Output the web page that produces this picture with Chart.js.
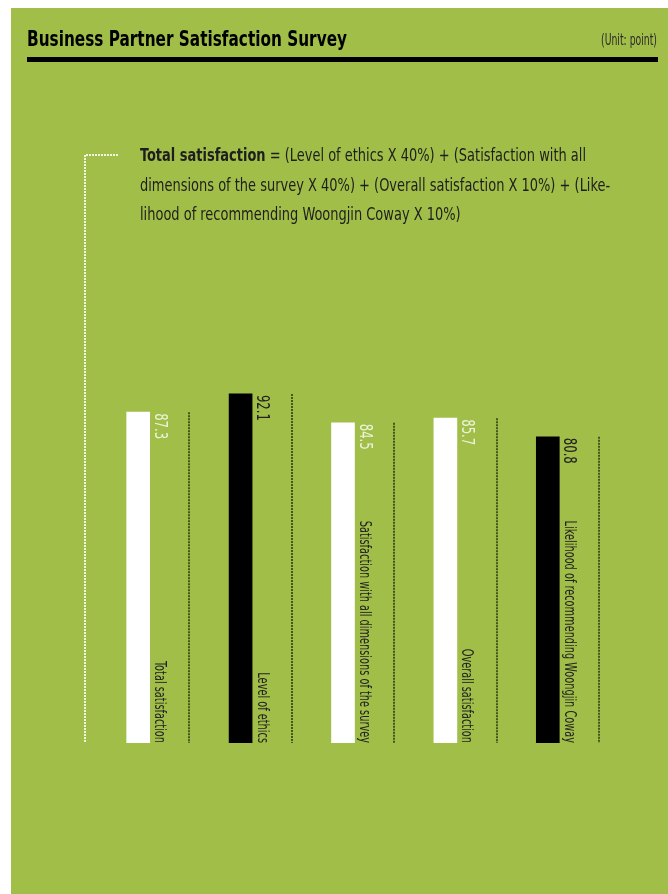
<!DOCTYPE html>
<html>
<head>
<meta charset="utf-8">
<script src="https://cdn.jsdelivr.net/npm/chart.js@4.4.0/dist/chart.umd.min.js"></script>
<style>
  html, body { margin: 0; padding: 0; background: #ffffff; }
  #chart { display: block; }
</style>
</head>
<body>
<canvas id="chart" width="668" height="894"></canvas>
<script>
// Data
const categories = [
  'Total satisfaction',
  'Level of ethics',
  'Satisfaction with all dimensions of the survey',
  'Overall satisfaction',
  'Likelihood of recommending Woongjin Coway'
];
const scores = [87.3, 92.1, 84.5, 85.7, 80.8];
const valueLabels = ['87.3', '92.1', '84.5', '85.7', '80.8'];

const titleText = 'Business Partner Satisfaction Survey';
const unitText = '(Unit: point)';
const formulaBold = 'Total satisfaction';
const formulaLines = [
  ' = (Level of ethics X 40%) + (Satisfaction with all',
  'dimensions of the survey X 40%) + (Overall satisfaction X 10%) + (Like-',
  'lihood of recommending Woongjin Coway X 10%)'
];

// Styles
const GREEN = 'rgb(161, 190, 72)';
const NARROW = "'Liberation Sans Narrow', 'DejaVu Sans Condensed', sans-serif";
const barColors = ['#ffffff', '#000000', '#ffffff', '#ffffff', '#000000'];
const valueColors = ['rgba(255,255,255,0.8)', '#222222', 'rgba(255,255,255,0.8)', 'rgba(255,255,255,0.8)', '#222222'];

// draw text squeezed horizontally (the original uses a very condensed face)
function squashText(ctx, text, x, y, squash, angle) {
  ctx.save();
  ctx.translate(x, y);
  if (angle) ctx.rotate(angle);
  ctx.scale(squash, 1);
  ctx.fillText(text, 0, 0);
  ctx.restore();
}

const pagePlugin = {
  id: 'page',
  beforeDraw(chart) {
    const ctx = chart.ctx;
    ctx.save();
    ctx.fillStyle = '#ffffff';
    ctx.fillRect(0, 0, chart.width, chart.height);
    ctx.fillStyle = GREEN;
    ctx.fillRect(11, 8, chart.width - 11, chart.height - 8);

    // title + rule
    ctx.fillStyle = '#000000';
    ctx.textBaseline = 'alphabetic';
    ctx.textAlign = 'left';
    ctx.font = 'bold 21px ' + NARROW;
    squashText(ctx, titleText, 27, 46, 320 / ctx.measureText(titleText).width);
    ctx.fillRect(27, 57, 631, 5);

    ctx.fillStyle = '#2a2a2a';
    ctx.font = '16px ' + NARROW;
    ctx.textAlign = 'right';
    squashText(ctx, unitText, 657, 45, 56 / ctx.measureText(unitText).width);

    // formula block
    ctx.textAlign = 'left';
    ctx.fillStyle = '#1e1e1e';
    ctx.font = 'bold 17px ' + NARROW;
    const boldW = ctx.measureText(formulaBold).width;
    ctx.font = '17px ' + NARROW;
    const squash = 446 / (boldW + ctx.measureText(formulaLines[0]).width);
    ctx.font = 'bold 17px ' + NARROW;
    squashText(ctx, formulaBold, 140, 161, squash);
    ctx.font = '17px ' + NARROW;
    squashText(ctx, formulaLines[0], 140 + boldW * squash, 161, squash);
    squashText(ctx, formulaLines[1], 140, 191, squash);
    squashText(ctx, formulaLines[2], 140, 220, squash);
    ctx.restore();
  },
  afterDatasetsDraw(chart) {
    const ctx = chart.ctx;
    const x = chart.scales.x;
    const y = chart.scales.y;
    const bottom = chart.chartArea.bottom;
    const half = (x.getPixelForValue(1) - x.getPixelForValue(0)) / 2;
    ctx.save();

    // white dotted bracket on the left
    ctx.strokeStyle = 'rgba(255,255,255,0.85)';
    ctx.lineWidth = 2;
    ctx.setLineDash([2, 1]);
    ctx.beginPath();
    ctx.moveTo(118, 155);
    ctx.lineTo(85, 155);
    ctx.lineTo(85, bottom);
    ctx.stroke();

    ctx.font = '18px ' + NARROW;
    const valueSquash = 26 / ctx.measureText(valueLabels[0]).width;
    ctx.font = '16px ' + NARROW;
    const labelSquash = 82 / ctx.measureText(categories[0]).width;

    scores.forEach((v, i) => {
      const cx = x.getPixelForValue(i);
      const top = y.getPixelForValue(v);

      // dark dotted guide at the category edge
      const gx = Math.round(cx + half);
      ctx.strokeStyle = 'rgba(30,40,10,0.7)';
      ctx.lineWidth = 2;
      ctx.setLineDash([2, 1]);
      ctx.beginPath();
      ctx.moveTo(gx, top);
      ctx.lineTo(gx, bottom);
      ctx.stroke();

      // value, rotated, at the top of the bar
      ctx.fillStyle = valueColors[i];
      ctx.font = '18px ' + NARROW;
      ctx.textAlign = 'left';
      ctx.textBaseline = 'alphabetic';
      squashText(ctx, valueLabels[i], cx + 16.5, top + 1, valueSquash, Math.PI / 2);

      // category name, rotated, ending at the base
      ctx.fillStyle = '#222222';
      ctx.font = '16px ' + NARROW;
      ctx.textAlign = 'right';
      squashText(ctx, categories[i], cx + 17, bottom, labelSquash, Math.PI / 2);
    });
    ctx.restore();
  }
};

new Chart(document.getElementById('chart'), {
  type: 'bar',
  data: {
    labels: categories,
    datasets: [{
      data: scores,
      backgroundColor: barColors,
      borderWidth: 0,
      barThickness: 23
    }]
  },
  options: {
    responsive: false,
    animation: false,
    layout: { padding: { left: 87, right: 69, top: 364, bottom: 151 } },
    scales: {
      x: { display: false, offset: true },
      y: { display: false, min: 0, max: 100 }
    },
    plugins: {
      legend: { display: false },
      tooltip: { enabled: false }
    }
  },
  plugins: [pagePlugin]
});
</script>
</body>
</html>
